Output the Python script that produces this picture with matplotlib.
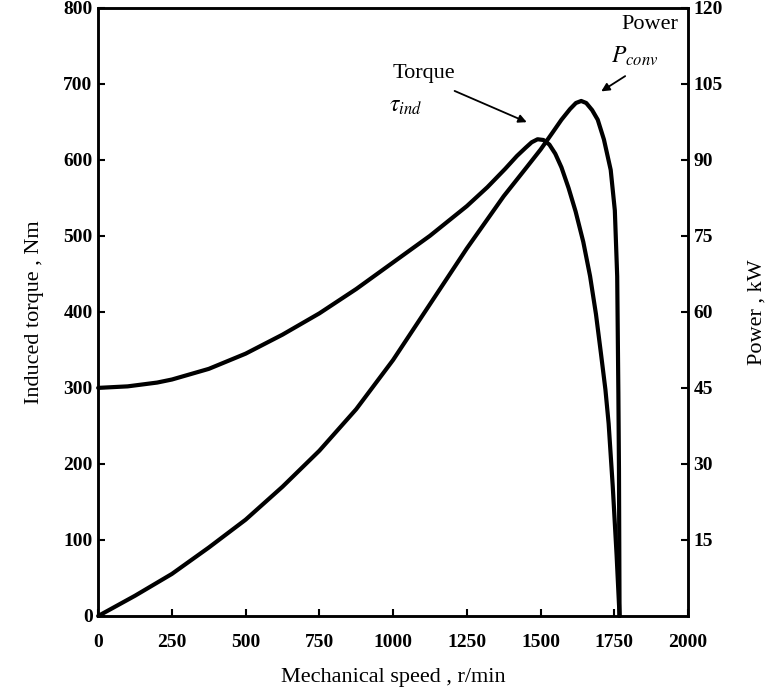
import matplotlib.pyplot as plt

plt.rcParams['font.family'] = ['Liberation Serif', 'DejaVu Serif']
plt.rcParams['mathtext.fontset'] = 'stix'

# data
speed_torque = [0, 100, 200, 250, 375, 500, 625, 750, 875, 1000, 1125, 1250, 1320,
                1380, 1420, 1450, 1470, 1490, 1510, 1530, 1550, 1571, 1595, 1619,
                1645, 1668, 1688, 1705, 1720, 1731, 1745, 1758, 1768]
torque_nm = [300, 302, 307, 311, 325, 345, 370, 398, 430, 465, 500, 539, 564,
             588, 605, 616, 623, 627, 626, 620, 608, 590, 563, 532,
             492, 447, 397, 345, 298, 253, 170, 80, 0]

speed_power = [0, 125, 250, 375, 500, 625, 750, 875, 1000, 1125, 1250, 1375, 1450,
               1500, 1540, 1571, 1600, 1620, 1638, 1655, 1675, 1694, 1715, 1738,
               1752, 1760, 1764, 1766, 1768]
power_kw = [0, 4, 8.3, 13.5, 19, 25.5, 32.6, 40.8, 50.5, 61.5, 72.5, 82.8, 88.3,
            92, 95.3, 97.9, 100, 101.2, 101.6, 101.2, 99.8, 97.9, 94, 88,
            80, 67, 44, 29, 0]

x_ticks = [0, 250, 500, 750, 1000, 1250, 1500, 1750, 2000]
torque_ticks = [0, 100, 200, 300, 400, 500, 600, 700, 800]
power_ticks = [15, 30, 45, 60, 75, 90, 105, 120]

fig = plt.figure(figsize=(7.73, 7.0), dpi=100)
ax = fig.add_axes([0.127, 0.12, 0.763, 0.869])

ax.plot(speed_torque, torque_nm, color='black', lw=3.0,
        solid_joinstyle='round', solid_capstyle='round', clip_on=False)

ax2 = ax.twinx()
ax2.plot(speed_power, power_kw, color='black', lw=3.0,
         solid_joinstyle='round', solid_capstyle='round', clip_on=False)

ax.set_xlim(0, 2000)
ax.set_ylim(0, 800)
ax2.set_ylim(0, 120)
ax.set_xticks(x_ticks)
ax.set_yticks(torque_ticks)
ax2.set_yticks(power_ticks)

for a in (ax, ax2):
    a.tick_params(direction='in', length=5, width=1.5, labelsize=14)
    for s in a.spines.values():
        s.set_linewidth(1.8)
    for lbl in a.get_xticklabels() + a.get_yticklabels():
        lbl.set_fontweight('bold')
ax.tick_params(axis='x', pad=13)
ax.tick_params(axis='y', pad=4)
ax2.tick_params(axis='y', pad=4)

ax.set_xlabel('Mechanical speed , r/min', fontsize=16, labelpad=12)
ax.set_ylabel('Induced torque , Nm', fontsize=16, labelpad=14)
ax2.set_ylabel('Power , kW', fontsize=16, labelpad=18)

# labels and arrows
ax.text(1105, 714, 'Torque', fontsize=16, ha='center', va='center')
ax.text(1041, 670, r'$\tau_{ind}$', fontsize=17, ha='center', va='center')
ax.annotate('', xy=(1462, 648), xytext=(1200, 692),
            arrowprops=dict(arrowstyle='-|>', color='black', lw=1.3, mutation_scale=12))

ax.text(1871, 778, 'Power', fontsize=16, ha='center', va='center')
ax.text(1820, 736, r'$P_{conv}$', fontsize=17, ha='center', va='center')
ax.annotate('', xy=(1698, 688), xytext=(1795, 712),
            arrowprops=dict(arrowstyle='-|>', color='black', lw=1.3, mutation_scale=12))

fig.savefig('out.png', dpi=100)
